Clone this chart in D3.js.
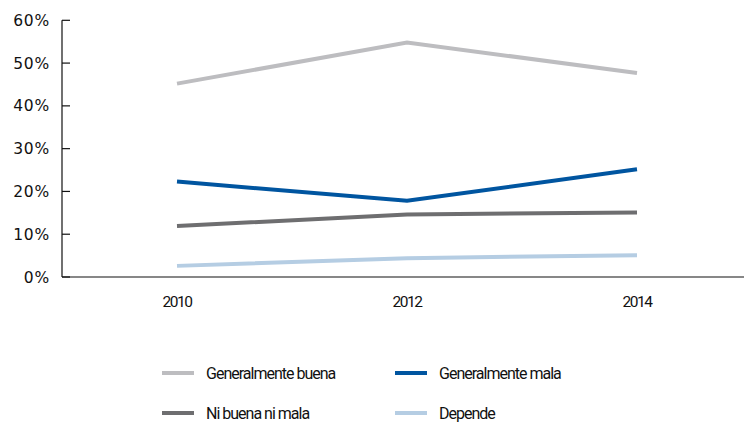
<!DOCTYPE html>
<html><head><meta charset="utf-8">
<script src="https://cdn.jsdelivr.net/npm/d3@7"></script>
<style>body{margin:0;background:#fff}svg{display:block}text{font-family:Roboto,sans-serif;fill:#111}</style>
</head><body><svg id="c" width="746" height="422"></svg>
<script>
const years = ["2010","2012","2014"];
const seriesNames = ["Generalmente buena","Generalmente mala","Ni buena ni mala","Depende"];
const buena = [45.2, 54.8, 47.7];
const mala = [22.3, 17.8, 25.2];
const niBuena = [11.9, 14.6, 15.1];
const depende = [2.6, 4.4, 5.1];
const yTicks = [0,10,20,30,40,50,60];
const colors = ["#bdbdc0","#0055a0","#6e6e70","#b5cde3"];
const series = [buena, mala, niBuena, depende];

const svg = d3.select("#c");
const x = d3.scalePoint().domain(years).range([62, 752]).padding(0.5);
const y = d3.scaleLinear().domain([0,60]).range([277, 20.3]);

// y axis
const ya = svg.append("g").attr("transform","translate(62,0)");
ya.append("line").attr("x1",0).attr("x2",0).attr("y1",y(60)).attr("y2",y(0)).attr("stroke","#111").attr("stroke-width",1.2);
yTicks.forEach(t=>{
  ya.append("line").attr("x1",0).attr("x2",8).attr("y1",y(t)).attr("y2",y(t)).attr("stroke","#111").attr("stroke-width",1.2);
  ya.append("text").attr("x",-12).attr("y",y(t)).attr("dy","0.36em").attr("text-anchor","end")
    .style("font-family","'DejaVu Sans',sans-serif").style("font-size","15.5px").style("letter-spacing","0.8px").text(t+"%");
});
// x axis
svg.append("line").attr("x1",62).attr("x2",744).attr("y1",y(0)).attr("y2",y(0)).attr("stroke","#111").attr("stroke-width",1.2);
years.forEach(yr=>{
  svg.append("text").attr("x",x(yr)).attr("y",307).attr("text-anchor","middle")
    .style("font-size","15.5px").style("letter-spacing","-1.5px").text(yr);
});
// lines
const line = d3.line().x((d,i)=>x(years[i])).y(d=>y(d));
series.forEach((s,i)=>{
  svg.append("path").attr("d",line(s)).attr("fill","none").attr("stroke",colors[i]).attr("stroke-width",4);
});
// legend
const lpos = [[162,373],[395,373],[162,413],[395,413]];
seriesNames.forEach((n,i)=>{
  const [lx,ly]=lpos[i];
  svg.append("line").attr("x1",lx).attr("x2",lx+32).attr("y1",ly).attr("y2",ly).attr("stroke",colors[i]).attr("stroke-width",4);
  svg.append("text").attr("x",lx+44).attr("y",ly).attr("dy","0.35em").style("font-size","16px").style("letter-spacing","-1px").text(n);
});
</script></body></html>
